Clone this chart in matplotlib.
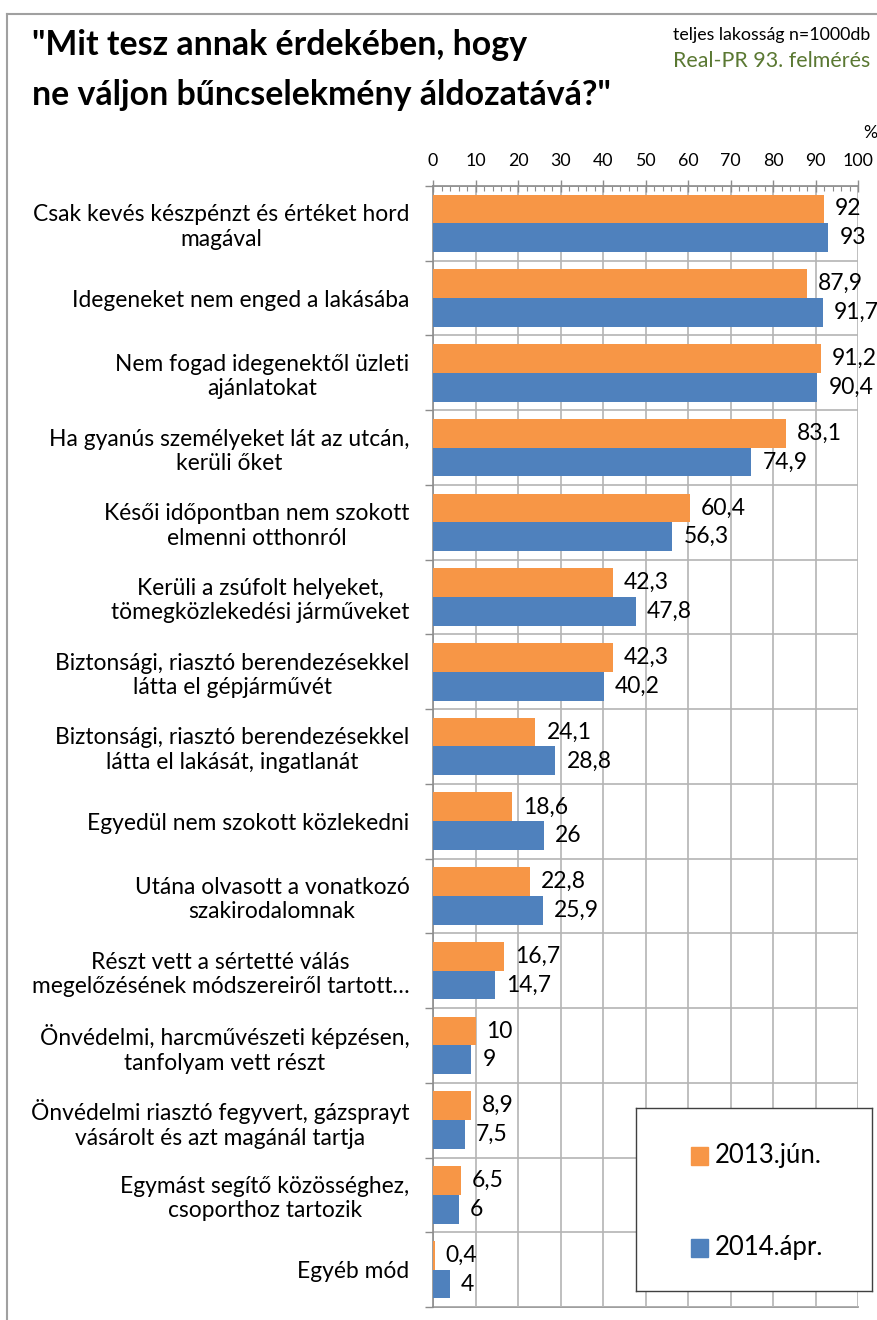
import matplotlib
matplotlib.use("Agg")
import matplotlib.pyplot as plt
from matplotlib.lines import Line2D
from matplotlib.ticker import MultipleLocator, FixedLocator
import numpy as np

plt.rcParams['font.family'] = ['Lato', 'DejaVu Sans']

categories = [
    "Csak kevés készpénzt és értéket hord\nmagával",
    "Idegeneket nem enged a lakásába",
    "Nem fogad idegenektől üzleti\najánlatokat",
    "Ha gyanús személyeket lát az utcán,\nkerüli őket",
    "Késői időpontban nem szokott\nelmenni otthonról",
    "Kerüli a zsúfolt helyeket,\ntömegközlekedési járműveket",
    "Biztonsági, riasztó berendezésekkel\nlátta el gépjárművét",
    "Biztonsági, riasztó berendezésekkel\nlátta el lakását, ingatlanát",
    "Egyedül nem szokott közlekedni",
    "Utána olvasott a vonatkozó\nszakirodalomnak",
    "Részt vett a sértetté válás\nmegelőzésének módszereiről tartott…",
    "Önvédelmi, harcművészeti képzésen,\ntanfolyam vett részt",
    "Önvédelmi riasztó fegyvert, gázsprayt\nvásárolt és azt magánál tartja",
    "Egymást segítő közösséghez,\ncsoporthoz tartozik",
    "Egyéb mód",
]
series_2013 = [92, 87.9, 91.2, 83.1, 60.4, 42.3, 42.3, 24.1, 18.6, 22.8, 16.7, 10, 8.9, 6.5, 0.4]
series_2014 = [93, 91.7, 90.4, 74.9, 56.3, 47.8, 40.2, 28.8, 26, 25.9, 14.7, 9, 7.5, 6, 4]
series_names = ["2013.jún.", "2014.ápr."]
x_ticks = list(range(0, 101, 10))

ORANGE = "#F79646"
BLUE = "#4F81BD"
GRID = "#B4B4B4"
AX = "#8C8C8C"

def fmt(v):
    if float(v).is_integer():
        return str(int(v))
    return str(v).replace(".", ",")

fig = plt.figure(figsize=(8.77, 13.2), dpi=100)
ax = fig.add_axes([433/877, 1 - 1307/1320, (858-433)/877, (1307-186)/1320])

n = len(categories)
y = np.arange(n)
h = 0.385
ax.barh(y - h/2, series_2013, height=h, color=ORANGE, zorder=3, label=series_names[0])
ax.barh(y + h/2, series_2014, height=h, color=BLUE, zorder=3, label=series_names[1])

ax.set_xlim(0, 100)
ax.set_ylim(n - 0.5, -0.5)

for i in range(n):
    ax.text(series_2013[i] + 2.6, y[i] - h/2, fmt(series_2013[i]), va='center', ha='left',
            fontsize=16.5, color='black', zorder=4)
    ax.text(series_2014[i] + 2.6, y[i] + h/2, fmt(series_2014[i]), va='center', ha='left',
            fontsize=16.5, color='black', zorder=4)

# x axis on top
ax.xaxis.set_ticks_position('top')
ax.xaxis.set_label_position('top')
ax.set_xticks(x_ticks)
ax.set_xticklabels([str(t) for t in x_ticks], fontsize=12.8)
ax.xaxis.set_minor_locator(MultipleLocator(2))
ax.tick_params(axis='x', which='major', direction='inout', length=9, width=1, color=AX, pad=8)
ax.tick_params(axis='x', which='minor', direction='in', length=3.5, width=0.8, color=AX)
ax.grid(axis='x', which='major', color=GRID, linewidth=1.2, zorder=0)

# y axis
ax.set_yticks(y)
ax.set_yticklabels(categories, fontsize=16.4)
for lbl in ax.get_yticklabels():
    lbl.set_multialignment('center')
ax.yaxis.set_minor_locator(FixedLocator(np.arange(-0.5, n, 1.0)))
ax.tick_params(axis='y', which='major', length=0, pad=17)
ax.tick_params(axis='y', which='minor', direction='out', length=5.5, width=1, color=AX)
ax.grid(axis='y', which='minor', color=GRID, linewidth=1.2, zorder=0)

for s in ['right', 'bottom']:
    ax.spines[s].set_visible(False)
for s in ['left', 'top']:
    ax.spines[s].set_color(AX)
    ax.spines[s].set_linewidth(1.2)
ax.axhline(n - 0.5, color=AX, linewidth=1.2, zorder=1, clip_on=False)

# percent sign
fig.text(870/877, 1 - 133/1320, "%", ha='center', va='center', fontsize=12.8)

# title
fig.text(32/877, 1 - 45/1320, "\"Mit tesz annak érdekében, hogy", ha='left', va='center',
         fontsize=24.4, fontweight='bold')
fig.text(32/877, 1 - 95/1320, "ne váljon bűncselekmény áldozatává?\"", ha='left', va='center',
         fontsize=24.4, fontweight='bold')
fig.text(870/877, 1 - 35/1320, "teljes lakosság n=1000db", ha='right', va='center', fontsize=12.8)
fig.text(870/877, 1 - 61/1320, "Real-PR 93. felmérés", ha='right', va='center', fontsize=15.4,
         color='#5A7832')

# outer frame (left and top)
fig.add_artist(Line2D([7/877, 7/877], [0, 1 - 14/1320], transform=fig.transFigure,
                      color='#A0A0A0', linewidth=1.5))
fig.add_artist(Line2D([7/877, 1], [1 - 14/1320, 1 - 14/1320], transform=fig.transFigure,
                      color='#A0A0A0', linewidth=1.5))

# legend
lax = fig.add_axes([636/877, 1 - 1291/1320, (872-636)/877, (1291-1108)/1320])
lax.set_xlim(0, 1); lax.set_ylim(0, 1)
lax.set_xticks([]); lax.set_yticks([])
for s in lax.spines.values():
    s.set_color('#404040'); s.set_linewidth(1.0)
lax.set_zorder(5)
lax.set_facecolor('white')
for col, name, yy in [(ORANGE, series_names[0], 1 - (1156-1108)/183), (BLUE, series_names[1], 1 - (1248-1108)/183)]:
    lax.add_patch(plt.Rectangle((0.235, yy - 0.047), 0.072, 0.094, color=col,
                                transform=lax.transAxes))
    lax.text(0.335, yy, name, ha='left', va='center', fontsize=18.5, transform=lax.transAxes)

fig.savefig("out.png", dpi=100)
